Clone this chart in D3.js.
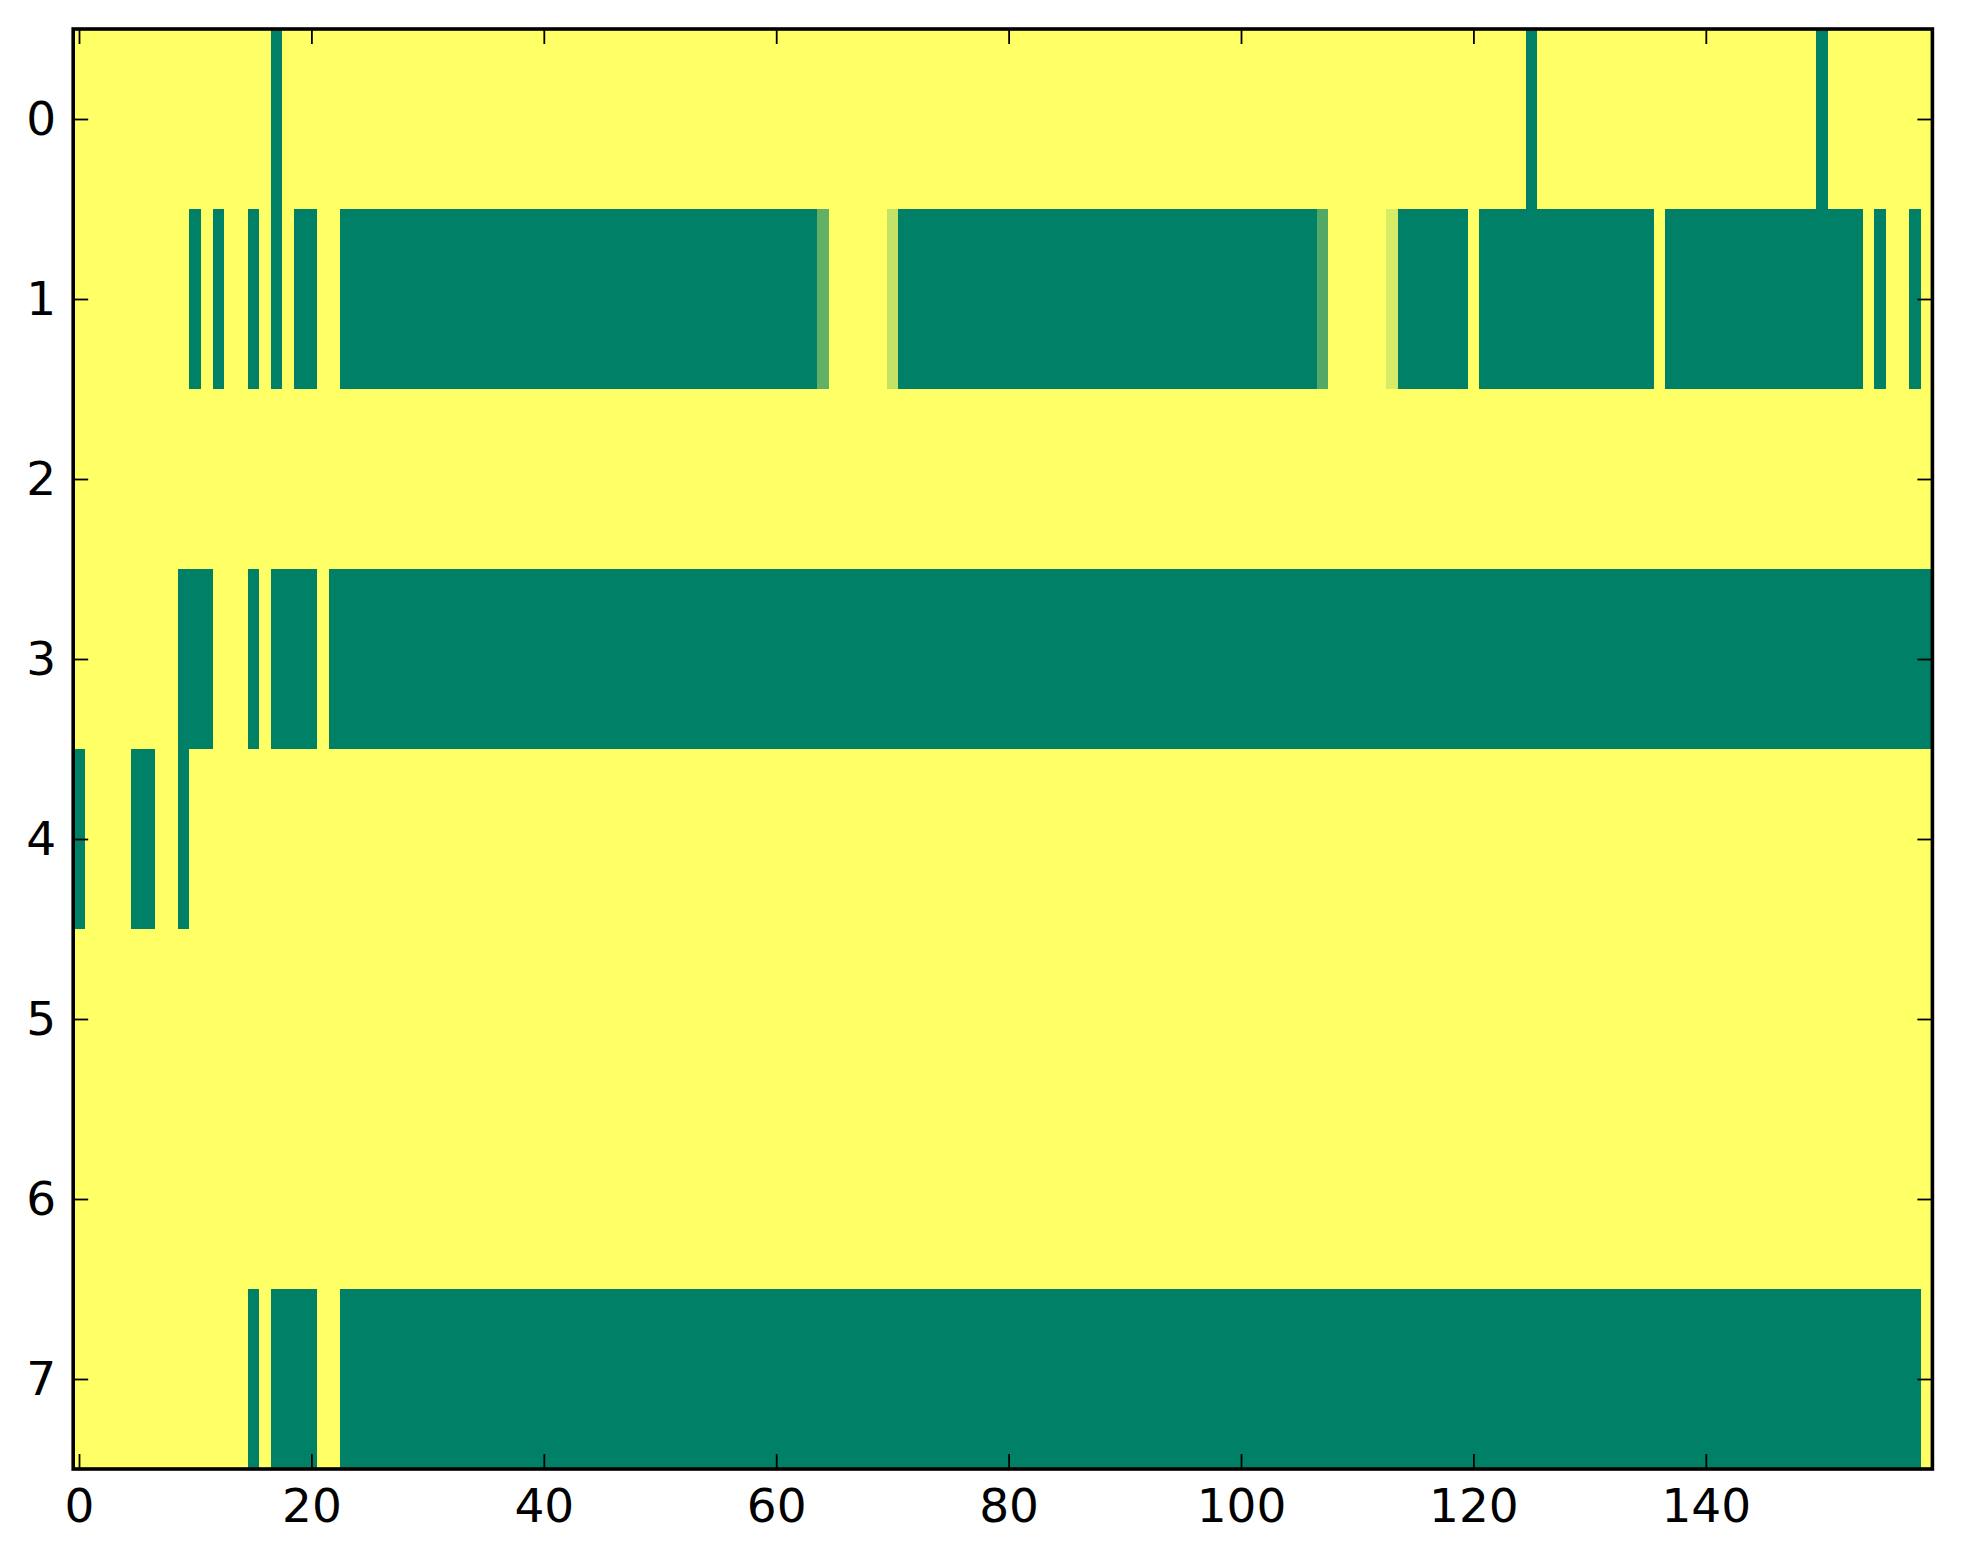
<!DOCTYPE html>
<html>
<head>
<meta charset="utf-8">
<script src="https://cdn.jsdelivr.net/npm/d3@7"></script>
<style>
  body { margin: 0; background: #fff; }
  .tick text { font-family: "DejaVu Sans", sans-serif; font-size: 47px; fill: #000; }
</style>
</head>
<body>
<div id="chart"></div>
<script>
const width = 1963;
const height = 1564;

// row labels and x ticks
const rowLabels = [0, 1, 2, 3, 4, 5, 6, 7];
const xTicks = [0, 20, 40, 60, 80, 100, 120, 140];
const yTicks = [0, 1, 2, 3, 4, 5, 6, 7];
const nCols = 160;

// one array per row, 160 values each (0 = green, 1 = yellow)
const row0 = [
  1,1,1,1,1,1,1,1,1,1, 1,1,1,1,1,1,1,0,1,1,
  1,1,1,1,1,1,1,1,1,1, 1,1,1,1,1,1,1,1,1,1,
  1,1,1,1,1,1,1,1,1,1, 1,1,1,1,1,1,1,1,1,1,
  1,1,1,1,1,1,1,1,1,1, 1,1,1,1,1,1,1,1,1,1,
  1,1,1,1,1,1,1,1,1,1, 1,1,1,1,1,1,1,1,1,1,
  1,1,1,1,1,1,1,1,1,1, 1,1,1,1,1,1,1,1,1,1,
  1,1,1,1,1,0,1,1,1,1, 1,1,1,1,1,1,1,1,1,1,
  1,1,1,1,1,1,1,1,1,1, 0,1,1,1,1,1,1,1,1,1
];
const row1 = [
  1,1,1,1,1,1,1,1,1,1, 0,1,0,1,1,0,1,0,1,0,
  0,1,1,0,0,0,0,0,0,0, 0,0,0,0,0,0,0,0,0,0,
  0,0,0,0,0,0,0,0,0,0, 0,0,0,0,0,0,0,0,0,0,
  0,0,0,0,0.38,1,1,1,1,1, 0.77,0,0,0,0,0,0,0,0,0,
  0,0,0,0,0,0,0,0,0,0, 0,0,0,0,0,0,0,0,0,0,
  0,0,0,0,0,0,0,0.32,1,1, 1,1,1,0.84,0,0,0,0,0,0,
  1,0,0,0,0,0,0,0,0,0, 0,0,0,0,0,0,1,0,0,0,
  0,0,0,0,0,0,0,0,0,0, 0,0,0,0,1,0,1,1,0,1
];
const row2 = [
  1,1,1,1,1,1,1,1,1,1, 1,1,1,1,1,1,1,1,1,1,
  1,1,1,1,1,1,1,1,1,1, 1,1,1,1,1,1,1,1,1,1,
  1,1,1,1,1,1,1,1,1,1, 1,1,1,1,1,1,1,1,1,1,
  1,1,1,1,1,1,1,1,1,1, 1,1,1,1,1,1,1,1,1,1,
  1,1,1,1,1,1,1,1,1,1, 1,1,1,1,1,1,1,1,1,1,
  1,1,1,1,1,1,1,1,1,1, 1,1,1,1,1,1,1,1,1,1,
  1,1,1,1,1,1,1,1,1,1, 1,1,1,1,1,1,1,1,1,1,
  1,1,1,1,1,1,1,1,1,1, 1,1,1,1,1,1,1,1,1,1
];
const row3 = [
  1,1,1,1,1,1,1,1,1,0, 0,0,1,1,1,0,1,0,0,0,
  0,1,0,0,0,0,0,0,0,0, 0,0,0,0,0,0,0,0,0,0,
  0,0,0,0,0,0,0,0,0,0, 0,0,0,0,0,0,0,0,0,0,
  0,0,0,0,0,0,0,0,0,0, 0,0,0,0,0,0,0,0,0,0,
  0,0,0,0,0,0,0,0,0,0, 0,0,0,0,0,0,0,0,0,0,
  0,0,0,0,0,0,0,0,0,0, 0,0,0,0,0,0,0,0,0,0,
  0,0,0,0,0,0,0,0,0,0, 0,0,0,0,0,0,0,0,0,0,
  0,0,0,0,0,0,0,0,0,0, 0,0,0,0,0,0,0,0,0,0
];
const row4 = [
  0,1,1,1,1,0,0,1,1,0, 1,1,1,1,1,1,1,1,1,1,
  1,1,1,1,1,1,1,1,1,1, 1,1,1,1,1,1,1,1,1,1,
  1,1,1,1,1,1,1,1,1,1, 1,1,1,1,1,1,1,1,1,1,
  1,1,1,1,1,1,1,1,1,1, 1,1,1,1,1,1,1,1,1,1,
  1,1,1,1,1,1,1,1,1,1, 1,1,1,1,1,1,1,1,1,1,
  1,1,1,1,1,1,1,1,1,1, 1,1,1,1,1,1,1,1,1,1,
  1,1,1,1,1,1,1,1,1,1, 1,1,1,1,1,1,1,1,1,1,
  1,1,1,1,1,1,1,1,1,1, 1,1,1,1,1,1,1,1,1,1
];
const row5 = [
  1,1,1,1,1,1,1,1,1,1, 1,1,1,1,1,1,1,1,1,1,
  1,1,1,1,1,1,1,1,1,1, 1,1,1,1,1,1,1,1,1,1,
  1,1,1,1,1,1,1,1,1,1, 1,1,1,1,1,1,1,1,1,1,
  1,1,1,1,1,1,1,1,1,1, 1,1,1,1,1,1,1,1,1,1,
  1,1,1,1,1,1,1,1,1,1, 1,1,1,1,1,1,1,1,1,1,
  1,1,1,1,1,1,1,1,1,1, 1,1,1,1,1,1,1,1,1,1,
  1,1,1,1,1,1,1,1,1,1, 1,1,1,1,1,1,1,1,1,1,
  1,1,1,1,1,1,1,1,1,1, 1,1,1,1,1,1,1,1,1,1
];
const row6 = [
  1,1,1,1,1,1,1,1,1,1, 1,1,1,1,1,1,1,1,1,1,
  1,1,1,1,1,1,1,1,1,1, 1,1,1,1,1,1,1,1,1,1,
  1,1,1,1,1,1,1,1,1,1, 1,1,1,1,1,1,1,1,1,1,
  1,1,1,1,1,1,1,1,1,1, 1,1,1,1,1,1,1,1,1,1,
  1,1,1,1,1,1,1,1,1,1, 1,1,1,1,1,1,1,1,1,1,
  1,1,1,1,1,1,1,1,1,1, 1,1,1,1,1,1,1,1,1,1,
  1,1,1,1,1,1,1,1,1,1, 1,1,1,1,1,1,1,1,1,1,
  1,1,1,1,1,1,1,1,1,1, 1,1,1,1,1,1,1,1,1,1
];
const row7 = [
  1,1,1,1,1,1,1,1,1,1, 1,1,1,1,1,0,1,0,0,0,
  0,1,1,0,0,0,0,0,0,0, 0,0,0,0,0,0,0,0,0,0,
  0,0,0,0,0,0,0,0,0,0, 0,0,0,0,0,0,0,0,0,0,
  0,0,0,0,0,0,0,0,0,0, 0,0,0,0,0,0,0,0,0,0,
  0,0,0,0,0,0,0,0,0,0, 0,0,0,0,0,0,0,0,0,0,
  0,0,0,0,0,0,0,0,0,0, 0,0,0,0,0,0,0,0,0,0,
  0,0,0,0,0,0,0,0,0,0, 0,0,0,0,0,0,0,0,0,0,
  0,0,0,0,0,0,0,0,0,0, 0,0,0,0,0,0,0,0,0,1
];
const rows = [row0, row1, row2, row3, row4, row5, row6, row7];

// plot box
const plotLeft = 73.2, plotRight = 1932.4, plotTop = 29, plotBottom = 1469;

const svg = d3.select("#chart").append("svg")
    .attr("width", width)
    .attr("height", height)
    .style("background", "#fff");

const x = d3.scaleLinear().domain([-0.5, nCols - 0.5]).range([plotLeft, plotRight]);
const y = d3.scaleLinear().domain([-0.5, rowLabels.length - 0.5]).range([plotTop, plotBottom]);

// "summer" colormap: green at 0, yellow at 1
const color = d3.scaleLinear().domain([0, 1])
    .range(["#008066", "#ffff66"])
    .interpolate(d3.interpolateRgb);

// flatten to cells
const cells = [];
rows.forEach((r, i) => r.forEach((v, j) => cells.push({ row: rowLabels[i], col: j, v: v })));

svg.append("g")
    .selectAll("rect")
    .data(cells)
    .enter().append("rect")
    .attr("x", d => x(d.col - 0.5))
    .attr("y", d => y(d.row - 0.5))
    .attr("width", x(1) - x(0) + 0.4)
    .attr("height", y(1) - y(0) + 0.4)
    .attr("fill", d => color(d.v))
    .attr("shape-rendering", "crispEdges");

// axes, ticks pointing inward on all four sides
const tickLen = 15;

const xAxis = svg.append("g")
    .attr("transform", `translate(0,${plotBottom})`)
    .call(d3.axisBottom(x).tickValues(xTicks).tickSizeInner(-tickLen).tickSizeOuter(0).tickPadding(20));

const xAxisTop = svg.append("g")
    .attr("transform", `translate(0,${plotTop})`)
    .call(d3.axisTop(x).tickValues(xTicks).tickSizeInner(-tickLen).tickSizeOuter(0).tickFormat(""));

const yAxis = svg.append("g")
    .attr("transform", `translate(${plotLeft},0)`)
    .call(d3.axisLeft(y).tickValues(yTicks).tickSizeInner(-tickLen).tickSizeOuter(0).tickPadding(17));

const yAxisRight = svg.append("g")
    .attr("transform", `translate(${plotRight},0)`)
    .call(d3.axisRight(y).tickValues(yTicks).tickSizeInner(-tickLen).tickSizeOuter(0).tickFormat(""));

[xAxis, xAxisTop, yAxis, yAxisRight].forEach(g => {
    g.select(".domain").remove();
    g.selectAll(".tick line").attr("stroke", "#000").attr("stroke-width", 1.8);
    g.attr("font-family", null).attr("font-size", null);
});

// frame
svg.append("rect")
    .attr("x", plotLeft)
    .attr("y", plotTop)
    .attr("width", plotRight - plotLeft)
    .attr("height", plotBottom - plotTop)
    .attr("fill", "none")
    .attr("stroke", "#000")
    .attr("stroke-width", 3.6);
</script>
</body>
</html>
